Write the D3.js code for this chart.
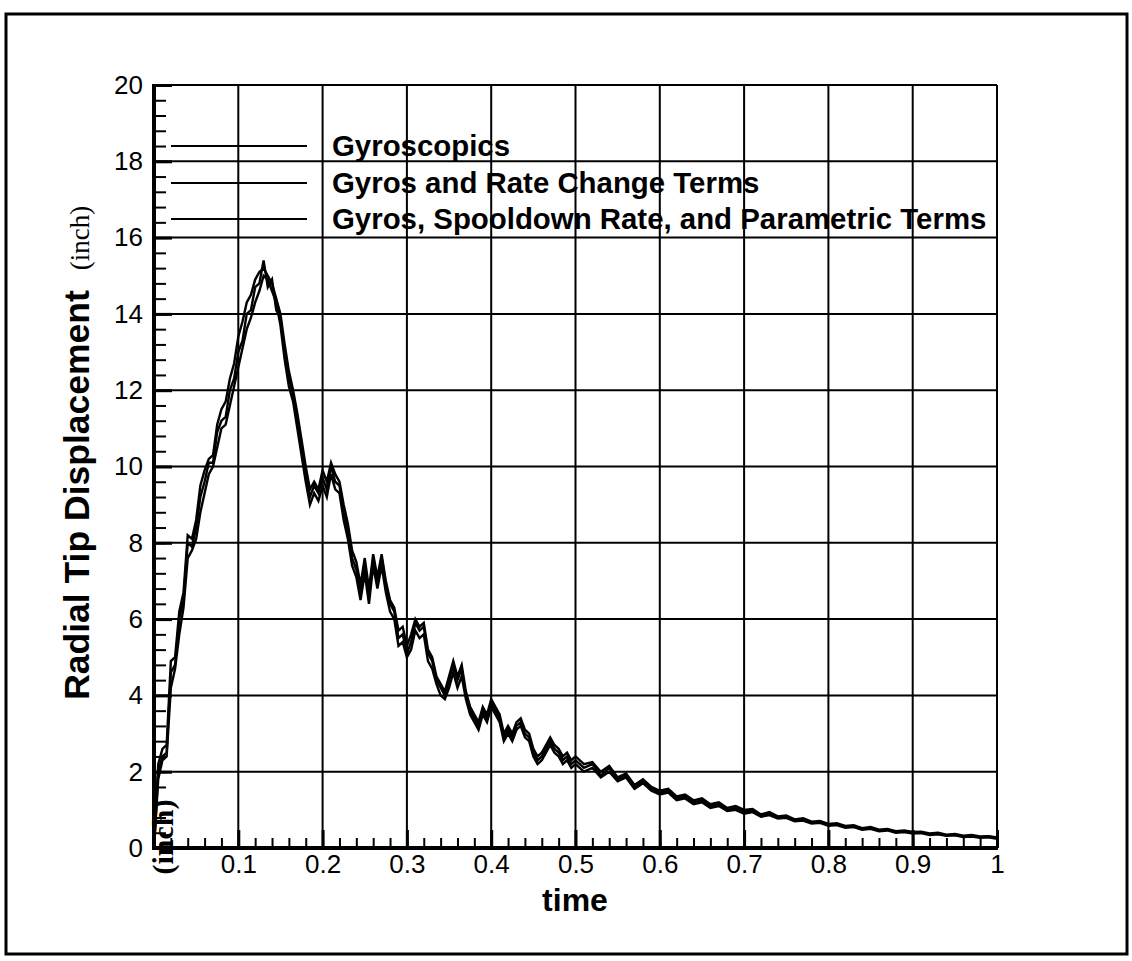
<!DOCTYPE html>
<html>
<head>
<meta charset="utf-8">
<script src="https://cdn.jsdelivr.net/npm/d3@7"></script>
<style>
  html, body { margin: 0; padding: 0; background: #fff; }
  svg { display: block; }
</style>
</head>
<body>
<svg id="chart" width="1132" height="961"></svg>
<script>
// ---- data ----
const time = [
  0, 0.005, 0.01, 0.015, 0.02, 0.025, 0.03, 0.035, 0.04, 0.045,
  0.05, 0.055, 0.06, 0.065, 0.07, 0.075, 0.08, 0.085, 0.09, 0.095,
  0.1, 0.105, 0.11, 0.115, 0.12, 0.125, 0.13, 0.135, 0.14, 0.145,
  0.15, 0.155, 0.16, 0.165, 0.17, 0.175, 0.18, 0.185, 0.19, 0.195,
  0.2, 0.205, 0.21, 0.215, 0.22, 0.225, 0.23, 0.235, 0.24, 0.245,
  0.25, 0.255, 0.26, 0.265, 0.27, 0.275, 0.28, 0.285, 0.29, 0.295,
  0.3, 0.305, 0.31, 0.315, 0.32, 0.325, 0.33, 0.335, 0.34, 0.345,
  0.35, 0.355, 0.36, 0.365, 0.37, 0.375, 0.38, 0.385, 0.39, 0.395,
  0.4, 0.405, 0.41, 0.415, 0.42, 0.425, 0.43, 0.435, 0.44, 0.445,
  0.45, 0.455, 0.46, 0.465, 0.47, 0.475, 0.48, 0.485, 0.49, 0.495,
  0.5,
  0.51, 0.52, 0.53, 0.54, 0.55, 0.56, 0.57, 0.58, 0.59, 0.6,
  0.61, 0.62, 0.63, 0.64, 0.65, 0.66, 0.67, 0.68, 0.69, 0.7,
  0.71, 0.72, 0.73, 0.74, 0.75, 0.76, 0.77, 0.78, 0.79, 0.8,
  0.81, 0.82, 0.83, 0.84, 0.85, 0.86, 0.87, 0.88, 0.89, 0.9,
  0.91, 0.92, 0.93, 0.94, 0.95, 0.96, 0.97, 0.98, 0.99, 1.0
];

const gyroscopics = [
  0, 2.0, 2.4, 2.5, 4.6, 4.8, 6.0, 6.5, 8.0, 7.9,
  8.4, 9.2, 9.6, 10.1, 10.1, 10.9, 11.2, 11.3, 12.0, 12.3,
  13.0, 13.3, 14.0, 14.1, 14.7, 14.8, 15.4, 14.7, 14.9, 14.1,
  13.9, 13.0, 12.3, 11.9, 11.2, 10.5, 9.8, 9.2, 9.5, 9.3,
  9.7, 9.4, 10.0, 9.6, 9.5, 8.8, 8.3, 7.6, 7.3, 6.7,
  7.4, 6.6, 7.6, 7.0, 7.6, 6.9, 6.4, 6.2, 5.5, 5.6,
  5.1, 5.4, 5.9, 5.7, 5.8, 5.1, 4.9, 4.4, 4.2, 4.0,
  4.4, 4.8, 4.4, 4.7, 4.0, 3.6, 3.4, 3.2, 3.6, 3.4,
  3.8, 3.6, 3.4, 2.9, 3.1, 2.9, 3.2, 3.3, 3.0, 2.9,
  2.5, 2.3, 2.4, 2.6, 2.8, 2.6, 2.5, 2.3, 2.4, 2.2,
  2.3,
  2.1, 2.2, 1.9, 2.1, 1.8, 1.9, 1.6, 1.75, 1.55, 1.45,
  1.5, 1.3, 1.35, 1.2, 1.25, 1.1, 1.15, 1.0, 1.05, 0.95,
  0.98, 0.85, 0.9, 0.8, 0.82, 0.72, 0.75, 0.66, 0.68, 0.6,
  0.62, 0.55, 0.57, 0.5, 0.52, 0.46, 0.48, 0.42, 0.44, 0.4,
  0.41, 0.36, 0.38, 0.33, 0.35, 0.3, 0.32, 0.28, 0.3, 0.26
];

const gyrosRateChange = [
  0, 1.8, 2.3, 2.4, 4.2, 4.7, 5.6, 6.3, 7.6, 7.8,
  8.1, 8.8, 9.3, 9.8, 10.0, 10.5, 11.0, 11.1, 11.6, 12.1,
  12.6, 13.1, 13.6, 13.9, 14.3, 14.6, 15.0, 14.9, 14.6, 14.3,
  13.7, 12.8, 12.1, 11.7, 11.0, 10.3, 9.6, 9.0, 9.3, 9.1,
  9.5, 9.2, 9.8, 9.4, 9.3, 8.6, 8.1, 7.4, 7.1, 6.5,
  7.2, 6.4, 7.4, 6.8, 7.4, 6.7, 6.2, 6.0, 5.3, 5.4,
  5.0, 5.2, 5.7, 5.5, 5.6, 4.9, 4.7, 4.3, 4.0, 3.9,
  4.2, 4.6, 4.2, 4.5, 3.9, 3.5, 3.3, 3.1, 3.5, 3.3,
  3.7, 3.5, 3.3, 2.8, 3.0, 2.8, 3.1, 3.2, 2.9, 2.8,
  2.4, 2.2, 2.3, 2.5, 2.7, 2.5, 2.4, 2.2, 2.3, 2.1,
  2.2,
  2.0, 2.1, 1.85, 2.0, 1.75, 1.85, 1.55, 1.7, 1.5, 1.4,
  1.45, 1.25, 1.3, 1.15, 1.2, 1.05, 1.1, 0.97, 1.0, 0.9,
  0.94, 0.82, 0.86, 0.77, 0.79, 0.7, 0.72, 0.64, 0.66, 0.58,
  0.6, 0.53, 0.55, 0.48, 0.5, 0.44, 0.46, 0.4, 0.42, 0.38,
  0.39, 0.34, 0.36, 0.32, 0.33, 0.29, 0.3, 0.27, 0.28, 0.24
];

const gyrosSpooldownParametric = [
  0, 2.2, 2.6, 2.7, 4.9, 5.0, 6.2, 6.7, 8.2, 8.1,
  8.6, 9.5, 9.9, 10.2, 10.3, 11.1, 11.5, 11.7, 12.3, 12.7,
  13.4, 13.8, 14.3, 14.5, 14.9, 15.1, 15.2, 15.0, 14.8, 14.4,
  14.0, 13.2, 12.5, 12.0, 11.4, 10.7, 10.0, 9.4, 9.6, 9.4,
  9.9, 9.6, 10.1, 9.8, 9.6, 9.0, 8.5, 7.8, 7.5, 6.9,
  7.6, 6.8, 7.7, 7.1, 7.7, 7.0, 6.5, 6.3, 5.7, 5.8,
  5.3, 5.6, 6.0, 5.8, 5.9, 5.2, 5.0, 4.5, 4.3, 4.1,
  4.5, 4.9, 4.5, 4.8, 4.1, 3.7, 3.5, 3.3, 3.7, 3.5,
  3.9, 3.7, 3.5, 3.0, 3.2, 3.0, 3.3, 3.4, 3.1, 3.0,
  2.6, 2.4, 2.5, 2.7, 2.9, 2.7, 2.6, 2.4, 2.5, 2.3,
  2.4,
  2.2, 2.25, 2.0, 2.15, 1.85, 1.95, 1.65, 1.8, 1.6, 1.5,
  1.55, 1.35, 1.4, 1.25, 1.3, 1.15, 1.2, 1.05, 1.1, 1.0,
  1.02, 0.88, 0.94, 0.83, 0.85, 0.75, 0.78, 0.69, 0.71, 0.63,
  0.65, 0.58, 0.6, 0.52, 0.55, 0.48, 0.5, 0.44, 0.46, 0.42,
  0.43, 0.38, 0.4, 0.35, 0.37, 0.32, 0.34, 0.3, 0.31, 0.28
];

const seriesNames = [
  "Gyroscopics",
  "Gyros and Rate Change Terms",
  "Gyros, Spooldown Rate, and Parametric Terms"
];
const seriesValues = [gyroscopics, gyrosRateChange, gyrosSpooldownParametric];

const xTickValues = [0.1, 0.2, 0.3, 0.4, 0.5, 0.6, 0.7, 0.8, 0.9, 1];
const xTickLabels = ["0.1", "0.2", "0.3", "0.4", "0.5", "0.6", "0.7", "0.8", "0.9", "1"];
const yTickValues = [0, 2, 4, 6, 8, 10, 12, 14, 16, 18, 20];
const yTickLabels = ["0", "2", "4", "6", "8", "10", "12", "14", "16", "18", "20"];

// ---- layout ----
const svg = d3.select("#chart");
const L = 154, R = 997, T = 85, B = 848;
const x = d3.scaleLinear().domain([0, 1]).range([L, R]);
const y = d3.scaleLinear().domain([0, 20]).range([B, T]);
const SANS = "Liberation Sans, Arial, Helvetica, sans-serif";
const SERIF = "Liberation Serif, Times New Roman, serif";

// outer frame
svg.append("rect").attr("x", 6).attr("y", 14).attr("width", 1121).attr("height", 940)
  .attr("fill", "none").attr("stroke", "#000").attr("stroke-width", 3);

// grid
const grid = svg.append("g").attr("stroke", "#000").attr("stroke-width", 2);
grid.selectAll("line.v").data(xTickValues).join("line")
  .attr("class", "v")
  .attr("x1", d => x(d)).attr("x2", d => x(d)).attr("y1", T).attr("y2", B);
grid.selectAll("line.h").data(yTickValues.filter(d => d > 0)).join("line")
  .attr("class", "h")
  .attr("x1", L).attr("x2", R).attr("y1", d => y(d)).attr("y2", d => y(d));

// axes via d3-axis (ticks drawn inward)
const xAxisMinor = d3.axisBottom(x).tickValues(d3.range(0, 51).map(i => i / 50))
  .tickSize(-10).tickFormat("");
const gxm = svg.append("g").attr("transform", `translate(0,${B})`).call(xAxisMinor);
gxm.select(".domain").remove();
gxm.selectAll("line").attr("stroke", "#000").attr("stroke-width", 2);

const xAxis = d3.axisBottom(x).tickValues(xTickValues)
  .tickSize(-18).tickPadding(8).tickFormat((d, i) => xTickLabels[i]);
const gx = svg.append("g").attr("transform", `translate(0,${B})`).call(xAxis);
gx.select(".domain").remove();
gx.selectAll("line").attr("stroke", "#000").attr("stroke-width", 3);
gx.selectAll("text").attr("font-family", SANS)
  .attr("font-size", 26).attr("fill", "#000").attr("dy", "0.72em").attr("y", 6);

const yAxisMinor = d3.axisLeft(y).tickValues(d3.range(0, 51).map(i => i * 0.4))
  .tickSize(-12).tickFormat("");
const gym = svg.append("g").attr("transform", `translate(${L},0)`).call(yAxisMinor);
gym.select(".domain").remove();
gym.selectAll("line").attr("stroke", "#000").attr("stroke-width", 2);

const yAxis = d3.axisLeft(y).tickValues(yTickValues)
  .tickSize(-18).tickPadding(10).tickFormat((d, i) => yTickLabels[i]);
const gy = svg.append("g").attr("transform", `translate(${L},0)`).call(yAxis);
gy.select(".domain").remove();
gy.selectAll("line").attr("stroke", "#000").attr("stroke-width", 3);
gy.selectAll("text").attr("font-family", SANS)
  .attr("font-size", 26).attr("fill", "#000").attr("x", -11);

// thick axis lines
svg.append("line").attr("x1", L).attr("x2", L).attr("y1", T - 1).attr("y2", B + 2)
  .attr("stroke", "#000").attr("stroke-width", 4);
svg.append("line").attr("x1", L - 2).attr("x2", R + 1).attr("y1", B).attr("y2", B)
  .attr("stroke", "#000").attr("stroke-width", 4);
svg.append("line").attr("x1", L).attr("x2", R).attr("y1", T).attr("y2", T)
  .attr("stroke", "#000").attr("stroke-width", 2);

// legend
const legendY = [146, 183, 219];
const lg = svg.append("g");
seriesNames.forEach((name, i) => {
  lg.append("line").attr("x1", 171).attr("x2", 307)
    .attr("y1", legendY[i]).attr("y2", legendY[i])
    .attr("stroke", "#000").attr("stroke-width", 2);
  lg.append("text").attr("x", 332).attr("y", legendY[i] + 10)
    .attr("font-family", SANS)
    .attr("font-weight", "bold").attr("font-size", 29.4).attr("fill", "#000")
    .text(name);
});

// series
const line = d3.line().x((d, i) => x(time[i])).y(d => y(d));
svg.append("g").selectAll("path").data(seriesValues).join("path")
  .attr("d", d => line(d))
  .attr("fill", "none").attr("stroke", "#000").attr("stroke-width", 2.4)
  .attr("stroke-linejoin", "miter");

// axis titles
svg.append("text").attr("x", 575).attr("y", 911).attr("text-anchor", "middle")
  .attr("font-family", SANS).attr("font-weight", "bold")
  .attr("font-size", 32).attr("fill", "#000").text("time");

svg.append("text").attr("transform", "translate(89,495) rotate(-90)")
  .attr("text-anchor", "middle")
  .attr("font-family", SANS).attr("font-weight", "bold")
  .attr("font-size", 35.5).attr("fill", "#000")
  .text("Radial Tip Displacement");

svg.append("text").attr("transform", "translate(89,238) rotate(-90)")
  .attr("text-anchor", "middle")
  .attr("font-family", SERIF)
  .attr("font-size", 27).attr("fill", "#000").text("(inch)");

svg.append("text").attr("transform", "translate(173,837) rotate(-90)")
  .attr("text-anchor", "middle")
  .attr("font-family", SERIF).attr("font-weight", "bold")
  .attr("font-size", 30).attr("fill", "#000").text("(inch)");
</script>
</body>
</html>
